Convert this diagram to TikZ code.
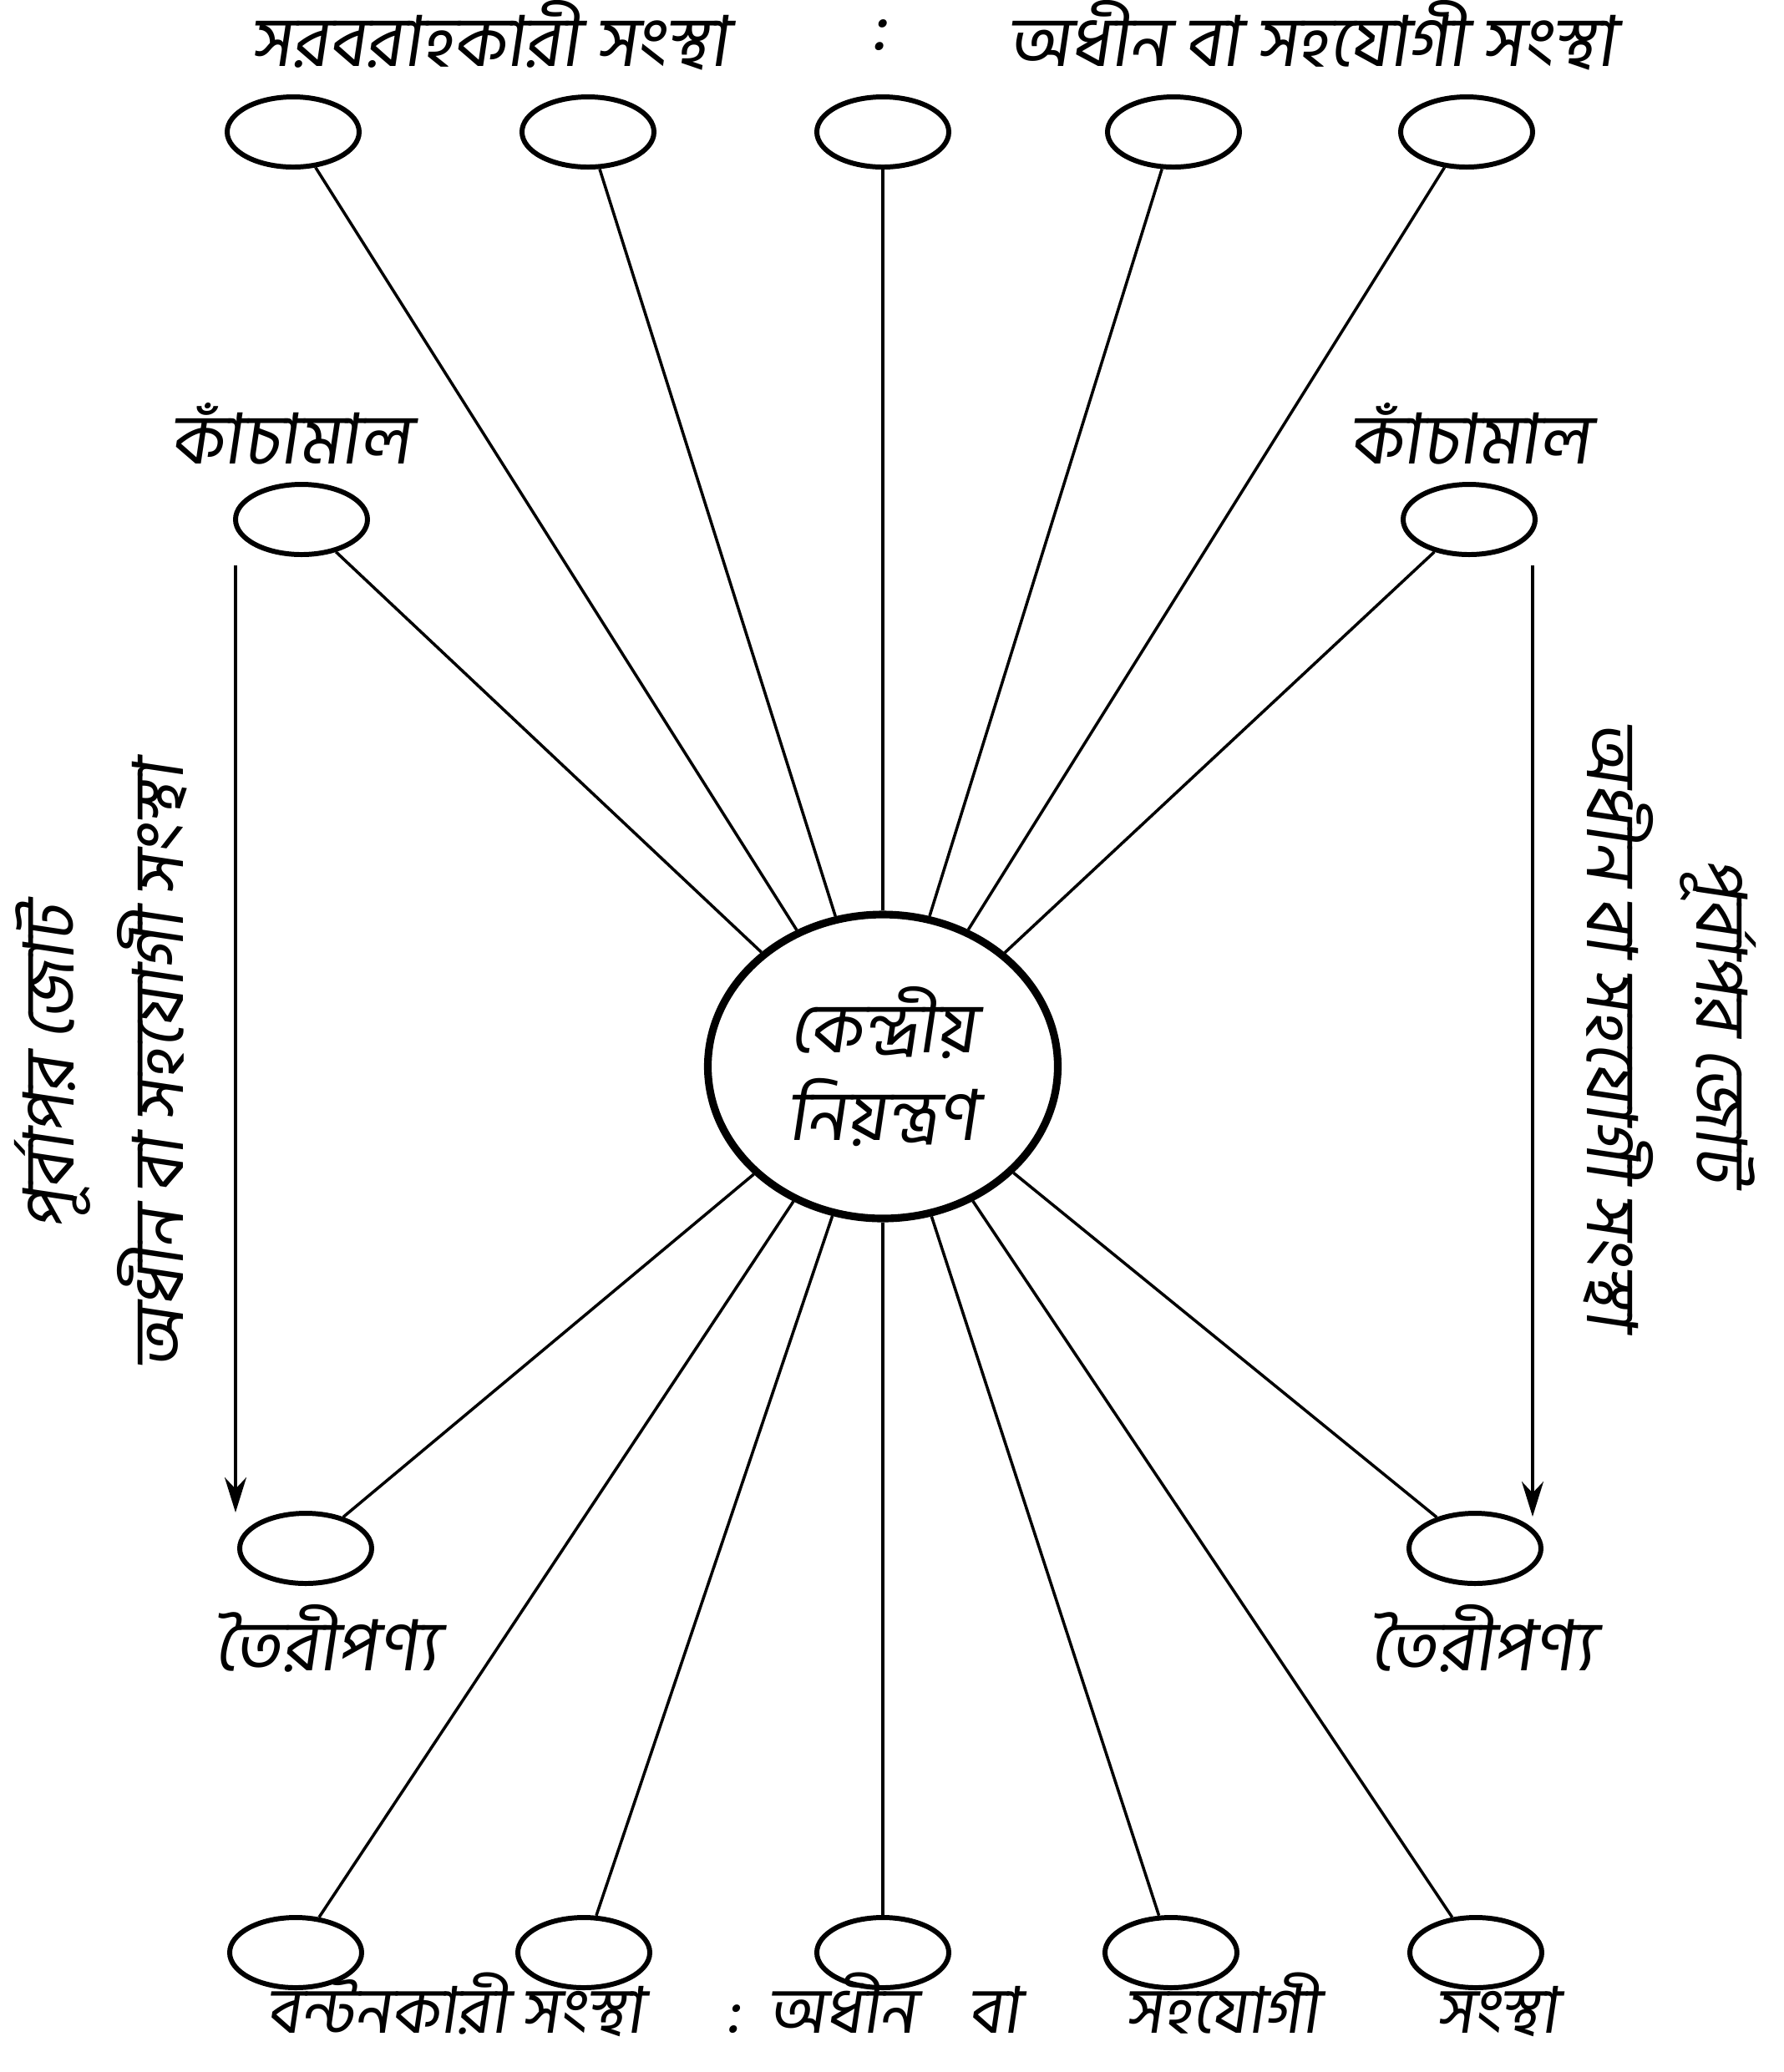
\documentclass[tikz,border=0pt]{standalone}
\usepackage{fontspec}
\newfontfamily\bn[Script=Bengali,FakeSlant=0.15]{Hind Siliguri}
\usepackage{tikz}
\usetikzlibrary{shapes.geometric,arrows.meta}

\tikzset{
  unit/.style={draw, ellipse, line width=1.7pt, minimum width=1.58cm, minimum height=0.84cm, inner sep=0pt},
  hub/.style={draw, ellipse, line width=2.6pt, minimum width=4.19cm, minimum height=3.64cm, inner sep=0pt, align=center},
  lbl/.style={font=\bn\fontsize{24}{30}\selectfont, inner sep=0pt},
  foot/.style={lbl, font=\bn\fontsize{22}{26}\selectfont, anchor=base},
  link/.style={line width=1pt},
}

\begin{document}
\begin{tikzpicture}
  \useasboundingbox (0,0) rectangle (21.36,-24.81);
  % centre
  \node[hub, lbl] (c) at (10.57,-12.77) {কেন্দ্রীয়\\নিয়ন্ত্রণ};
  % suppliers and distributors
  \foreach \i/\x in {1/3.51, 2/7.04, 3/10.57, 4/14.05, 5/17.56} {
    \node[unit] (s\i) at (\x,-1.58) {};
    \draw[link] (s\i) -- (c);
  }
  \foreach \i/\x in {1/3.54, 2/6.99, 3/10.57, 4/14.02, 5/17.67} {
    \node[unit] (d\i) at (\x,-23.38) {};
    \draw[link] (c) -- (d\i);
  }
  % raw material and finished goods
  \node[unit] (rl) at (3.61,-6.22) {}; \node[unit] (rr) at (17.59,-6.22) {};
  \node[unit] (fl) at (3.66,-18.54) {}; \node[unit] (fr) at (17.66,-18.54) {};
  \foreach \n in {rl,rr,fl,fr} \draw[link] (\n) -- (c);
  % vertical arrows
  \coordinate (al1) at (2.82,-6.77); \coordinate (al2) at (2.82,-18.11);
  \coordinate (ar1) at (18.35,-6.77); \coordinate (ar2) at (18.35,-18.16);
  \draw[link, -{Stealth[length=0.42cm, width=0.26cm]}] (al1) -- (al2);
  \draw[link, -{Stealth[length=0.42cm, width=0.26cm]}] (ar1) -- (ar2);
  % texts
  \node[lbl] (ts1) at (5.86,-0.42) {সরবরাহকারী সংস্থা}; \node[lbl] (ts2) at (10.52,-0.42) {:};
  \node[lbl] (ts3) at (15.70,-0.42) {অধীন বা সহযোগী সংস্থা};
  \node[lbl] (trl) at (3.48,-5.19) {কাঁচামাল}; \node[lbl] (trr) at (17.60,-5.19) {কাঁচামাল};
  \node[lbl] (tfl) at (3.91,-19.62) {তৈরীপণ্য}; \node[lbl] (tfr) at (17.75,-19.62) {তৈরীপণ্য};
  \node[lbl, rotate=90] (tl1) at (0.63,-12.78) {পূর্বাপর জোট};
  \node[lbl, rotate=90] (tl2) at (1.82,-12.77) {অধীন বা সহযোগী সংস্থা};
  \node[lbl, rotate=-90] (tr1) at (19.38,-12.26) {অধীন বা সহযোগী সংস্থা};
  \node[lbl, rotate=-90] (tr2) at (20.57,-12.22) {পূর্বাপর জোট};
  \node[foot] (tb1) at (5.45,-24.34) {বন্টনকারী সংস্থা}; \node[foot] (tb2) at (8.78,-24.34) {:};
  \node[foot] (tb3) at (10.08,-24.34) {অধীন}; \node[foot] (tb4) at (11.90,-24.34) {বা};
  \node[foot] (tb5) at (14.63,-24.34) {সহযোগী}; \node[foot] (tb6) at (17.92,-24.34) {সংস্থা};
\end{tikzpicture}
\end{document}
